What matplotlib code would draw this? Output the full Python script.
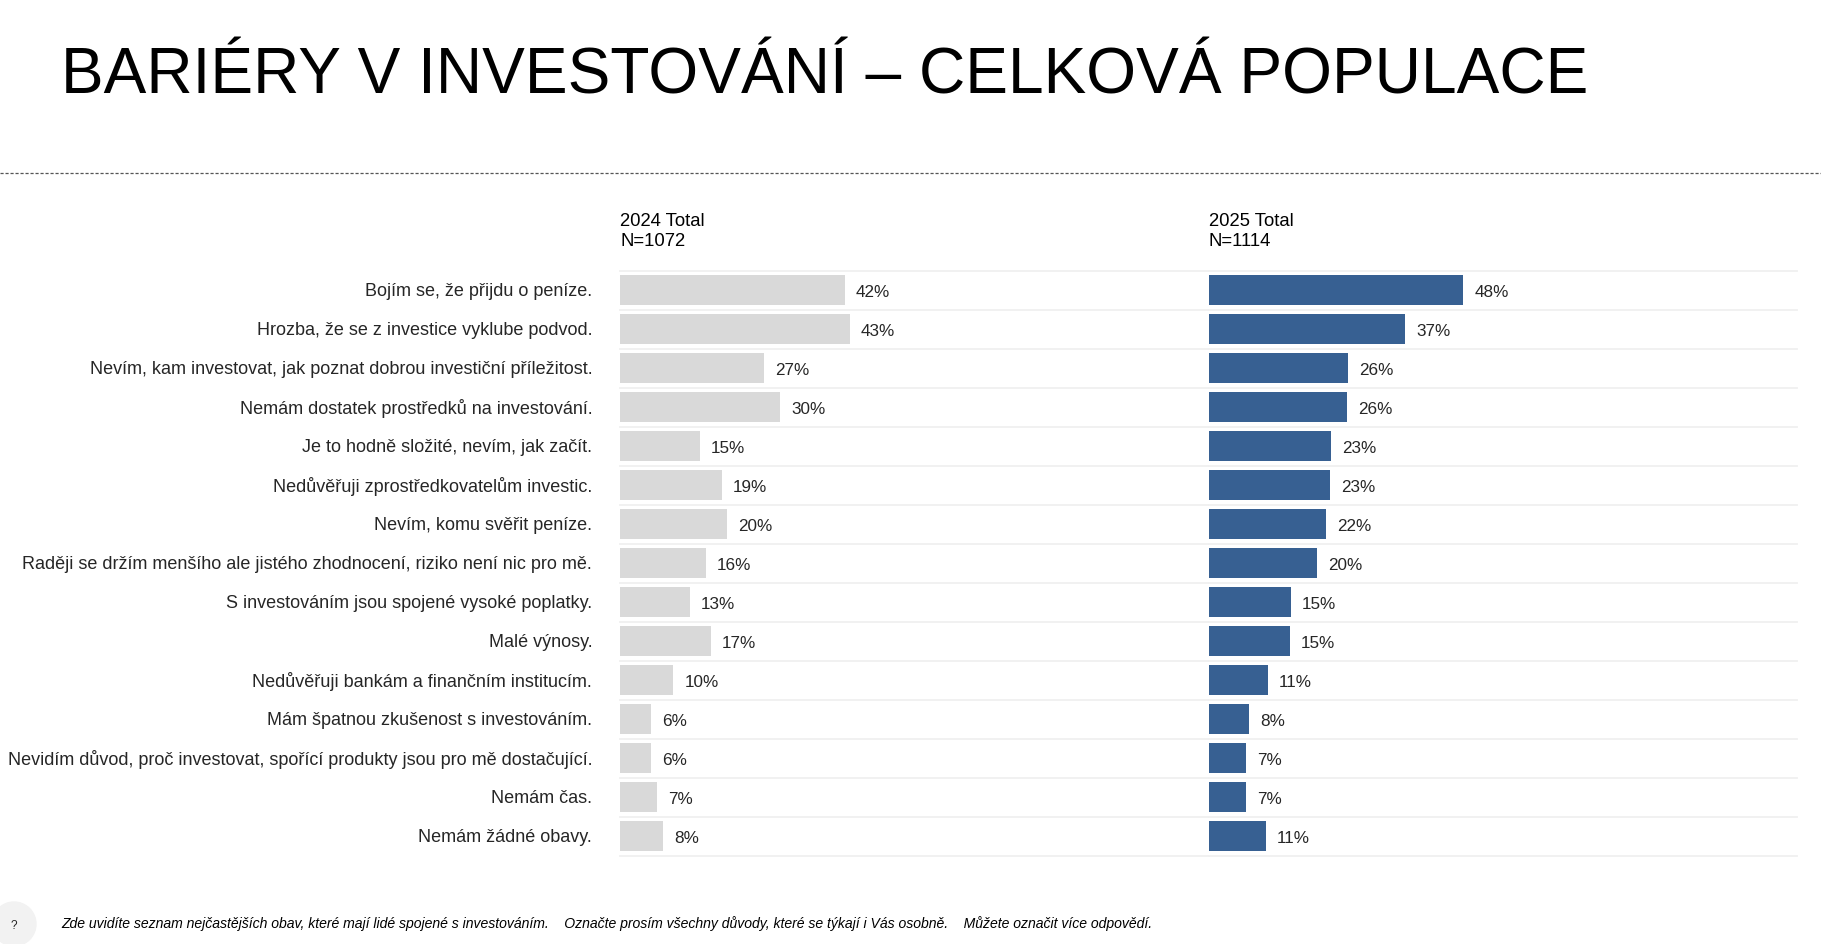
import matplotlib
matplotlib.use('Agg')
from matplotlib import pyplot as plt
from matplotlib.patches import Ellipse
from matplotlib.transforms import ScaledTranslation

plt.rcParams['font.family'] = ['Liberation Sans', 'DejaVu Sans']

W, H = 1821, 945

title = 'BARIÉRY V INVESTOVÁNÍ – CELKOVÁ POPULACE'
footnote = ('Zde uvidíte seznam nejčastějších obav, které mají lidé spojené s investováním.    '
            'Označte prosím všechny důvody, které se týkají i Vás osobně.    '
            'Můžete označit více odpovědí.')

categories = [
    'Bojím se, že přijdu o peníze.',
    'Hrozba, že se z investice vyklube podvod.',
    'Nevím, kam investovat, jak poznat dobrou investiční příležitost.',
    'Nemám dostatek prostředků na investování.',
    'Je to hodně složité, nevím, jak začít.',
    'Nedůvěřuji zprostředkovatelům investic.',
    'Nevím, komu svěřit peníze.',
    'Raději se držím menšího ale jistého zhodnocení, riziko není nic pro mě.',
    'S investováním jsou spojené vysoké poplatky.',
    'Malé výnosy.',
    'Nedůvěřuji bankám a finančním institucím.',
    'Mám špatnou zkušenost s investováním.',
    'Nevidím důvod, proč investovat, spořící produkty jsou pro mě dostačující.',
    'Nemám čas.',
    'Nemám žádné obavy.',
]
values_2024 = [42.2, 43.1, 27, 30, 15, 19.1, 20, 16.1, 13.1, 17, 10, 5.9, 5.9, 7, 8]
values_2025 = [47.8, 36.9, 26.1, 25.9, 22.9, 22.7, 22, 20.3, 15.4, 15.2, 11.1, 7.6, 7, 7, 10.7]
headers = ['2024 Total\nN=1072', '2025 Total\nN=1114']
colors = ['#d9d9d9', '#376092']


def add_axes_px(fig, left, top, right, bottom):
    return fig.add_axes([left / W, 1 - bottom / H, (right - left) / W, (bottom - top) / H])


def draw_panel(ax, values, color):
    rows = range(len(values))
    ax.barh(rows, values, height=0.77, color=color, zorder=2)
    for y, v in zip(rows, values):
        ax.annotate(f'{round(v)}%', (v, y), xytext=(8, 0), textcoords='offset points',
                    va='center_baseline', ha='left', fontsize=12.3, color='#262626')
    ax.set_xlim(0, 110.5)
    ax.set_ylim(len(values) - 0.5, -0.5)
    ax.set_xticks([])
    for y in range(len(values) + 1):
        ax.axhline(y - 0.5, color='#f0f0f0', lw=1.3, zorder=1, clip_on=False)
    for s in ax.spines.values():
        s.set_visible(False)


fig = plt.figure(figsize=(W / 100, H / 100), dpi=100)

ax1 = add_axes_px(fig, 620, 271.5, 1209, 856.5)
ax2 = add_axes_px(fig, 1209, 271.5, 1797, 856.5)
draw_panel(ax1, values_2024, colors[0])
draw_panel(ax2, values_2025, colors[1])

ax1.set_yticks(range(len(categories)))
ax1.set_yticklabels(categories, fontsize=12.95, color='#262626')
ax1.tick_params(axis='y', length=0, pad=20)
ax2.set_yticks([])
# nudge the row labels up a little
nudge = ScaledTranslation(0, 1.5 / 100, fig.dpi_scale_trans)
for label in ax1.get_yticklabels():
    label.set_transform(label.get_transform() + nudge)

for ax, header in zip([ax1, ax2], headers):
    ax.text(0, 1.068, header, transform=ax.transAxes, fontsize=13.3, color='black',
            va='center', ha='left', linespacing=1.26)

fig.text(61 / W, 1 - 76 / H, title, fontsize=46.1, color='black', va='center', ha='left')
fig.add_artist(plt.Line2D([0, 1], [1 - 174 / H] * 2, color='#555555', lw=0.9,
                          ls=(0, (2.5, 1.5)), transform=fig.transFigure))

fig.add_artist(Ellipse((14 / W, 1 - 925 / H), 44 / W, 44 / H, color='#f2f2f2',
                       transform=fig.transFigure))
fig.text(14 / W, 1 - 926 / H, '?', fontsize=8.5, color='#262626', va='center', ha='center')
fig.text(61 / W, 1 - 924 / H, footnote, fontsize=10.12, style='italic', color='black',
         va='center', ha='left')

fig.savefig('out.png', dpi=100)
